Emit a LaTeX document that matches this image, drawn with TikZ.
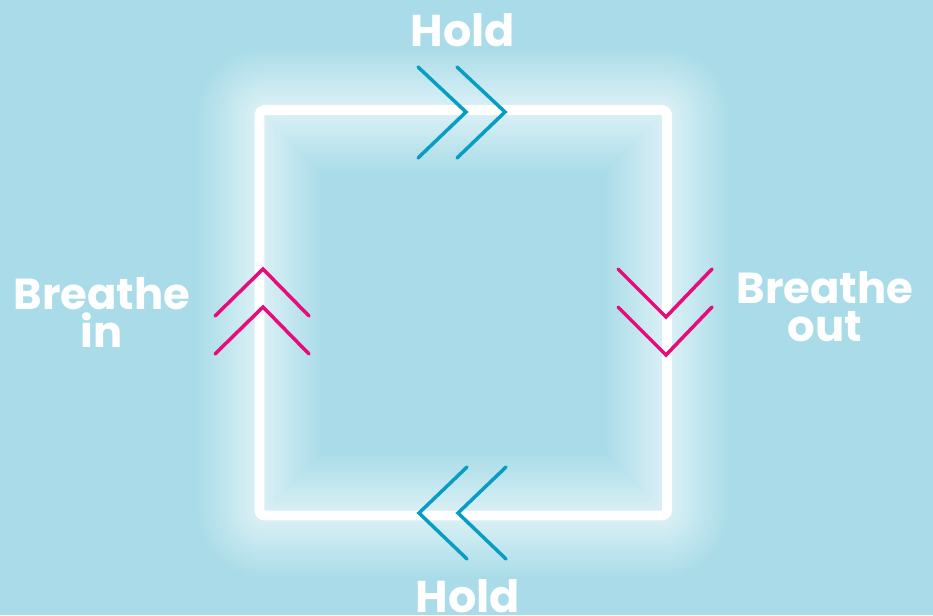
\documentclass[tikz,border=0pt]{standalone}
\usepackage{fontspec}
\setmainfont{Poppins}
\definecolor{cSky}{RGB}{169,220,232}
\definecolor{cTeal}{RGB}{8,158,196}
\definecolor{cPink}{RGB}{232,12,122}
\tikzset{
	chevron/.style={line width=3pt, line cap=round, line join=miter},
	glow/.style={line join=round, rounded corners=4pt},
	bigword/.style={text=white, font=\bfseries\fontsize{38}{38}\selectfont, inner sep=0pt},
	smallword/.style={text=white, font=\bfseries\fontsize{37}{33}\selectfont, align=center, inner sep=0pt},
}
\begin{document}
\begin{tikzpicture}[x=0.03cm, y=-0.03cm]
	\fill[cSky] (0,0) rectangle (933,615);
	\useasboundingbox (0,0) rectangle (933,615);
	% corners of the square
	\coordinate (tl) at (259.5,110);
	\coordinate (tr) at (667,110);
	\coordinate (br) at (667,515.5);
	\coordinate (bl) at (259.5,515.5);
	% soft glow, then the line itself
	\foreach \w [count=\i] in {124,120,...,12}
		\draw[glow, draw=white!\fpeval{1.9*\i}!cSky, line width=\w*0.85pt] (tl) -- (tr) -- (br) -- (bl) -- cycle;
	\draw[glow, draw=white, line width=8.5pt] (tl) -- (tr) -- (br) -- (bl) -- cycle;
	% hold (top), to the right
	\foreach \dx in {0,39}
		\draw[chevron, cTeal] (418+\dx,67) -- (466+\dx,112) -- (418+\dx,158);
	% breathe out, downwards
	\foreach \dy in {0,38}
		\draw[chevron, cPink] (618,269+\dy) -- (666,317+\dy) -- (712,269+\dy);
	% hold (bottom), to the left
	\foreach \dx in {0,39}
		\draw[chevron, cTeal] (467+\dx,467) -- (419+\dx,513) -- (467+\dx,559);
	% breathe in, upwards
	\foreach \dy in {0,38}
		\draw[chevron, cPink] (215,316+\dy) -- (263,269+\dy) -- (309,316+\dy);
	% labels
	\node[bigword, anchor=base] (holdtop) at (463,46) {Hold};
	\node[bigword, anchor=base] (holdbot) at (468,612) {Hold};
	\node[smallword, anchor=north] (inhale) at (102,277) {Breathe\\in};
	\node[smallword, anchor=north] (exhale) at (825,271) {Breathe\\out};
\end{tikzpicture}
\end{document}
